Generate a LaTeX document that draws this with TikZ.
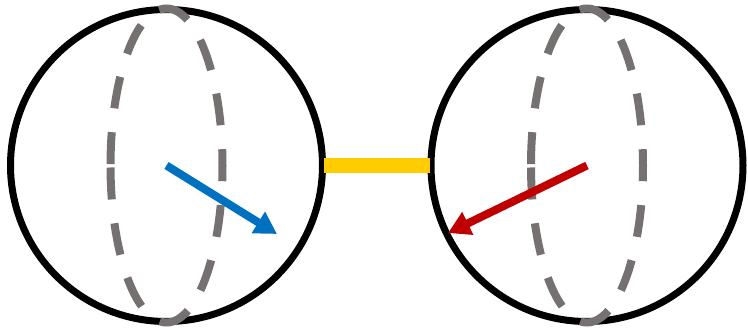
\documentclass[tikz,border=0pt]{standalone}
\usetikzlibrary{arrows.meta}
\definecolor{ringgray}{HTML}{767171}
\definecolor{arrblue}{HTML}{0070C0}
\definecolor{arrred}{HTML}{C00000}
\definecolor{bargold}{HTML}{FFCC00}
\tikzset{
  sphere/.style={draw=black, line width=7pt},
  meridian/.style={draw=ringgray, line width=8pt, dash pattern=on 32pt off 24pt, dash phase=-2pt},
  spinarrow/.style={line width=8pt, -{Triangle[length=22pt,width=24pt]}},
  bond/.style={fill=bargold, draw=none}
}
\begin{document}
\begin{tikzpicture}[x=1pt,y=-1pt]
\useasboundingbox (0,0) rectangle (748,328);
\coordinate (c1) at (166.5,165.5);
\coordinate (c2) at (587,165.5);
\draw[sphere] (c1) circle[radius=156];
\draw[sphere] (c2) circle[radius=156];
\draw[meridian] (c1) ++(-56,0) arc[start angle=180, end angle=-180, x radius=56, y radius=157];
\draw[meridian] (c2) ++(-56,0) arc[start angle=180, end angle=-180, x radius=56, y radius=157];
\node[bond, minimum width=106pt, minimum height=15pt, inner sep=0pt] (bar) at (377,165.5) {};
\coordinate (t1) at (277,234);
\coordinate (t2) at (448,233);
\draw[spinarrow, draw=arrblue, fill=arrblue] (c1) -- (t1);
\draw[spinarrow, draw=arrred, fill=arrred] (c2) -- (t2);
\end{tikzpicture}
\end{document}
